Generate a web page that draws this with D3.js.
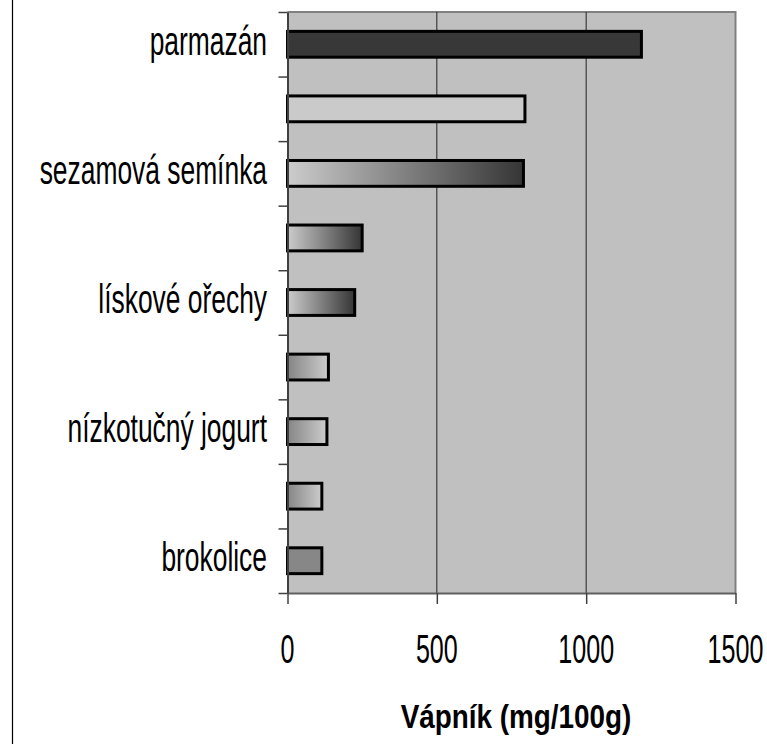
<!DOCTYPE html>
<html lang="cs">
  <head>
    <meta charset="utf-8"/>
    <title>Vápník</title>
    <script src="https://d3js.org/d3.v7.min.js"></script>
    <style>
      body { margin: 0; background: #fff; }
      svg { display: block; }
      text { font-family: "Liberation Sans", Arial, sans-serif; fill: #000; }
    </style>
  </head>
  <body>
    <div id="chart"></div>
    <script>
    // data (every other category label is not printed)
    var categories = ["parmazán", "", "sezamová semínka", "", "lískové ořechy", "", "nízkotučný jogurt", "", "brokolice"];
    var calcium = [1185, 795, 790, 250, 225, 137, 132, 115, 115];
    var xTicks = [0, 500, 1000, 1500];
    var xTitle = "Vápník (mg/100g)";

    // fill per bar (solid or one of the gradients below)
    var barFills = ["#383838", "#cacaca", "url(#lightDark)", "url(#lightDark)", "url(#lightDark)",
                    "url(#midLight)", "url(#midLight)", "url(#midLight)", "#878787"];

    var width = 767, height = 744;
    var plotLeft = 287.5, plotRight = 735.5, plotTop = 12, plotBottom = 593;

    var svg = d3.select("#chart").append("svg")
        .attr("width", width)
        .attr("height", height);

    var defs = svg.append("defs");
    function gradient(id, from, to)
    {
      var g = defs.append("linearGradient").attr("id", id)
          .attr("x1", "0").attr("y1", "0").attr("x2", "1").attr("y2", "0");
      g.append("stop").attr("offset", "0").attr("stop-color", from);
      g.append("stop").attr("offset", "1").attr("stop-color", to);
    }
    gradient("lightDark", "#cccccc", "#353535");
    gradient("midLight", "#858585", "#cccccc");

    var x = d3.scaleLinear().domain([0, 1500]).range([plotLeft, plotRight]);
    var y = d3.scaleBand().domain(d3.range(categories.length))
        .range([plotTop, plotBottom]).paddingInner(0.6).paddingOuter(0.3);
    // band boundaries, where the category ticks sit
    var yEdge = d3.scaleLinear().domain([0, categories.length]).range([plotTop, plotBottom]);

    // chart area border (only the left edge shows)
    svg.append("line")
        .attr("x1", 12.5).attr("x2", 12.5).attr("y1", 0).attr("y2", height)
        .attr("stroke", "#000").attr("stroke-width", 1.2);

    // plot area
    svg.append("rect")
        .attr("x", plotLeft).attr("y", plotTop)
        .attr("width", plotRight - plotLeft).attr("height", plotBottom - plotTop)
        .attr("fill", "#c0c0c0");
    svg.append("path")
        .attr("d", "M" + plotLeft + "," + plotTop + "H" + plotRight + "V" + plotBottom)
        .attr("fill", "none").attr("stroke", "#808080").attr("stroke-width", 2);

    // gridlines
    svg.append("g").selectAll("line")
        .data(xTicks.filter(function(d) { return d > 0 && d < 1500; }))
        .join("line")
        .attr("x1", function(d) { return x(d); })
        .attr("x2", function(d) { return x(d); })
        .attr("y1", plotTop).attr("y2", plotBottom)
        .attr("stroke", "#222").attr("stroke-width", 1);

    // bars
    svg.append("g").selectAll("rect")
        .data(calcium)
        .join("rect")
        .attr("x", x(0))
        .attr("y", function(d, i) { return y(i); })
        .attr("width", function(d) { return x(d) - x(0); })
        .attr("height", y.bandwidth())
        .attr("fill", function(d, i) { return barFills[i]; })
        .attr("stroke", "#000")
        .attr("stroke-width", 3);

    // axes
    var yAxis = svg.append("g")
        .attr("transform", "translate(" + plotLeft + ",0)")
        .call(d3.axisLeft(yEdge).ticks(categories.length).tickSize(9).tickSizeOuter(0).tickFormat(""));
    yAxis.select(".domain").attr("stroke", "#404040").attr("stroke-width", 2);
    yAxis.selectAll(".tick line").attr("stroke", "#404040").attr("stroke-width", 1.5);

    var xAxis = svg.append("g")
        .attr("transform", "translate(0," + plotBottom + ")")
        .call(d3.axisBottom(x).tickValues(xTicks).tickSize(11).tickSizeOuter(0).tickFormat(""));
    xAxis.select(".domain").attr("stroke", "#606060").attr("stroke-width", 2);
    xAxis.selectAll(".tick line").attr("stroke", "#404040").attr("stroke-width", 1.5);

    // category labels (condensed, like the original)
    svg.append("g").selectAll("text")
        .data(categories)
        .join("text")
        .attr("transform", function(d, i) {
          return "translate(267," + (y(i) + y.bandwidth() / 2 + 10.5) + ") scale(0.66,1)";
        })
        .attr("text-anchor", "end")
        .style("font-size", "40px")
        .text(function(d) { return d; });

    // value labels
    svg.append("g").selectAll("text")
        .data(xTicks)
        .join("text")
        .attr("transform", function(d) { return "translate(" + x(d) + ",663) scale(0.62,1)"; })
        .attr("text-anchor", "middle")
        .style("font-size", "40.5px")
        .text(function(d) { return d; });

    // axis title
    svg.append("text")
        .attr("transform", "translate(516,728) scale(0.82,1)")
        .attr("text-anchor", "middle")
        .style("font-size", "34px")
        .style("font-weight", "bold")
        .text(xTitle);
    </script>
  </body>
</html>
